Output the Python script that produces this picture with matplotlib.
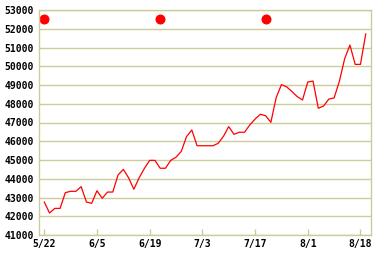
import matplotlib
matplotlib.use("Agg")
import matplotlib.pyplot as plt

tick_labels = ["5/22", "6/5", "6/19", "7/3", "7/17", "8/1", "8/18"]
tick_index = [0, 10, 20, 30, 40, 50, 60]
prices = [42760, 42170, 42420, 42420, 43260, 43330, 43330, 43580, 42760, 42690,
          43360, 42960, 43290, 43290, 44200, 44500, 44050, 43440, 44050, 44550,
          44980, 44980, 44560, 44560, 44980, 45150, 45460, 46250, 46600, 45760,
          45760, 45760, 45760, 45890, 46260, 46780, 46370, 46480, 46480, 46870,
          47180, 47440, 47360, 47010, 48320, 49020, 48900, 48650, 48380, 48200,
          49160, 49210, 47760, 47880, 48250, 48310, 49200, 50400, 51130, 50100,
          50100, 51720]
marker_index = [0, 22, 42]
marker_value = [52500, 52500, 52500]
y_ticks = list(range(41000, 53001, 1000))

grid_c = "#cccc99"
fig = plt.figure(figsize=(3.82, 2.58), dpi=100)
ax = fig.add_axes([39/382, 1-235/258, 332/382, 225/258])
x = list(range(len(prices)))
ax.plot(x, prices, color="#ff0000", lw=0.9)
ax.plot(marker_index, marker_value, "o", color="#ff0000", ms=6.2, mec="#ff0000")
ax.set_xlim(-1, 62)
ax.set_ylim(41000, 53000)
ax.set_yticks(y_ticks)
ax.set_yticklabels([str(v) for v in y_ticks])
ax.set_xticks(tick_index)
ax.set_xticklabels(tick_labels)
ax.grid(axis="y", color=grid_c, lw=1.0)
ax.set_axisbelow(True)
for s in ax.spines.values():
    s.set_color(grid_c)
    s.set_linewidth(1.0)
ax.tick_params(axis="y", length=0, pad=4)
ax.tick_params(axis="x", direction="in", length=4, width=1.0, color=grid_c, pad=3)
for lab in ax.get_xticklabels() + ax.get_yticklabels():
    lab.set_fontfamily("DejaVu Sans Mono")
    lab.set_fontsize(7.0)
    lab.set_fontweight("bold")
fig.savefig("out.png", dpi=100)
